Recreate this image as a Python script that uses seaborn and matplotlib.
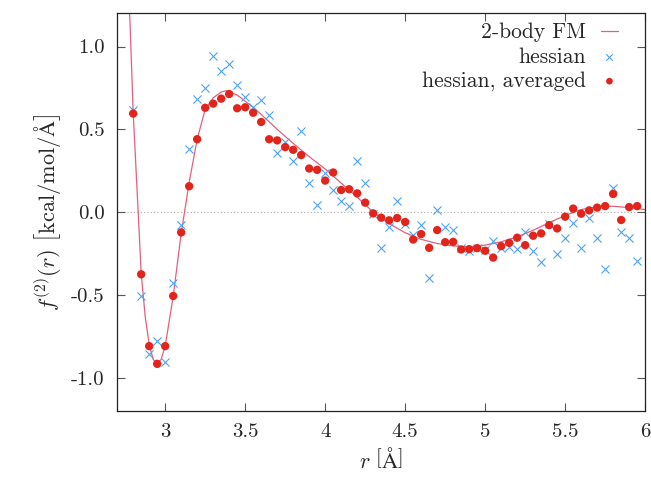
import numpy as np
import pandas as pd
import matplotlib
matplotlib.use("Agg")
import matplotlib.pyplot as plt
import seaborn as sns

# 2-body FM curve
fm_r = [2.765, 2.78, 2.80, 2.825, 2.85, 2.875, 2.90, 2.925, 2.95, 2.975, 3.00, 3.05, 3.10,
        3.15, 3.20, 3.25, 3.30, 3.35, 3.38, 3.45, 3.50, 3.57, 3.60, 3.70, 3.80, 3.90,
        4.00, 4.10, 4.20, 4.30, 4.40, 4.50, 4.60, 4.70, 4.80, 4.90, 5.00, 5.10, 5.20,
        5.30, 5.40, 5.50, 5.60, 5.70, 5.80, 5.90, 6.00]
fm_f = [1.45, 1.15, 0.60, 0.12, -0.37, -0.63, -0.80, -0.89, -0.915, -0.89, -0.81, -0.51, -0.13,
        0.18, 0.44, 0.62, 0.69, 0.725, 0.733, 0.707, 0.67, 0.616, 0.59, 0.50, 0.415, 0.335,
        0.26, 0.175, 0.09, 0.0, -0.07, -0.125, -0.165, -0.19, -0.205, -0.21, -0.2, -0.18, -0.15,
        -0.11, -0.065, -0.02, 0.015, 0.033, 0.035, 0.027, 0.015]

# sample points r = 2.80 ... 5.95
r_pts = [2.80, 2.85, 2.90, 2.95, 3.00, 3.05, 3.10, 3.15, 3.20, 3.25, 3.30, 3.35, 3.40,
         3.45, 3.50, 3.55, 3.60, 3.65, 3.70, 3.75, 3.80, 3.85, 3.90, 3.95, 4.00, 4.05,
         4.10, 4.15, 4.20, 4.25, 4.30, 4.35, 4.40, 4.45, 4.50, 4.55, 4.60, 4.65, 4.70,
         4.75, 4.80, 4.85, 4.90, 4.95, 5.00, 5.05, 5.10, 5.15, 5.20, 5.25, 5.30, 5.35,
         5.40, 5.45, 5.50, 5.55, 5.60, 5.65, 5.70, 5.75, 5.80, 5.85, 5.90, 5.95]

hessian = [0.616, -0.507, -0.86, -0.778, -0.905, -0.428, -0.08, 0.378, 0.681, 0.748, 0.944, 0.853, 0.897,
           0.768, 0.697, 0.636, 0.677, 0.584, 0.358, 0.424, 0.311, 0.491, 0.176, 0.041, 0.233, 0.136,
           0.069, 0.036, 0.307, 0.176, -0.012, -0.218, -0.093, 0.069, -0.07, -0.141, -0.079, -0.40, 0.015,
           -0.091, -0.111, -0.216, -0.236, -0.22, -0.23, -0.176, -0.216, -0.212, -0.222, -0.121, -0.236, -0.299,
           -0.075, -0.256, -0.155, -0.064, -0.216, -0.036, -0.155, -0.347, 0.148, -0.121, -0.155, -0.293]

hessian_avg = [0.595, -0.376, -0.81, -0.917, -0.81, -0.507, -0.123, 0.156, 0.44, 0.63, 0.655, 0.685, 0.713,
               0.627, 0.633, 0.60, 0.544, 0.44, 0.433, 0.392, 0.376, 0.344, 0.263, 0.255, 0.19, 0.239,
               0.133, 0.138, 0.113, 0.057, -0.008, -0.034, -0.05, -0.036, -0.06, -0.166, -0.133, -0.216, -0.109,
               -0.182, -0.18, -0.226, -0.224, -0.218, -0.234, -0.275, -0.206, -0.186, -0.155, -0.2, -0.143, -0.129,
               -0.079, -0.099, -0.028, 0.021, -0.01, 0.01, 0.027, 0.036, 0.109, -0.048, 0.03, 0.036]

x_ticks = [3, 3.5, 4, 4.5, 5, 5.5, 6]
x_labels = ["3", "3.5", "4", "4.5", "5", "5.5", "6"]
y_ticks = [1.0, 0.5, 0.0, -0.5, -1.0]
y_labels = ["1.0", "0.5", "0.0", "-0.5", "-1.0"]

df_fm = pd.DataFrame({"r": fm_r, "f": fm_f})
df_pts = pd.DataFrame({"r": r_pts, "hessian": hessian, "avg": hessian_avg})

sns.set_style("ticks")
plt.rcParams["font.family"] = ["cmr10", "DejaVu Serif"]
plt.rcParams["mathtext.fontset"] = "cm"
plt.rcParams["axes.unicode_minus"] = False

fig = plt.figure(figsize=(6.51, 4.79), dpi=100)
ax = fig.add_axes([0.180, 0.1426, 0.811, 0.8294])

# dotted zero line
ax.axhline(0, color="#aaaaaa", lw=0.8, ls=(0, (1, 2)), zorder=0)

sns.lineplot(data=df_fm, x="r", y="f", ax=ax, color="#e2607e", lw=0.9,
             label="2-body FM", zorder=2)
sns.scatterplot(data=df_pts, x="r", y="hessian", ax=ax, marker="x", color="#4da3f5",
                s=34, linewidth=0.8, label="hessian", zorder=3)
sns.scatterplot(data=df_pts, x="r", y="avg", ax=ax, marker="o", color="#e3241b",
                s=36, edgecolor="none", label="hessian, averaged", zorder=4)

ax.set_xlim(2.7, 6.0)
ax.set_ylim(-1.2, 1.2)
ax.set_xticks(x_ticks)
ax.set_xticklabels(x_labels)
ax.set_yticks(y_ticks)
ax.set_yticklabels(y_labels)
ax.tick_params(direction="in", length=6, width=0.8, color="#555555",
               top=True, right=True, labelsize=15, pad=9)
for sp in ax.spines.values():
    sp.set_linewidth(0.9)
    sp.set_color("#222222")

ax.set_xlabel(r"$r\ \left[\mathrm{\AA}\right]$", fontsize=16, labelpad=4)
ax.set_ylabel(r"$f^{(2)}(r)\ \left[\mathrm{kcal/mol/\AA}\right]$", fontsize=16, labelpad=6)

# gnuplot-like key: text right-aligned, sample on the right
leg = ax.legend(loc="upper right", bbox_to_anchor=(0.965, 0.998), borderaxespad=0,
                frameon=False, markerfirst=False, fontsize=15.5,
                handlelength=0.8, handletextpad=0.7, labelspacing=0.22, markerscale=0.8)

fig.savefig("out.png", dpi=100)
